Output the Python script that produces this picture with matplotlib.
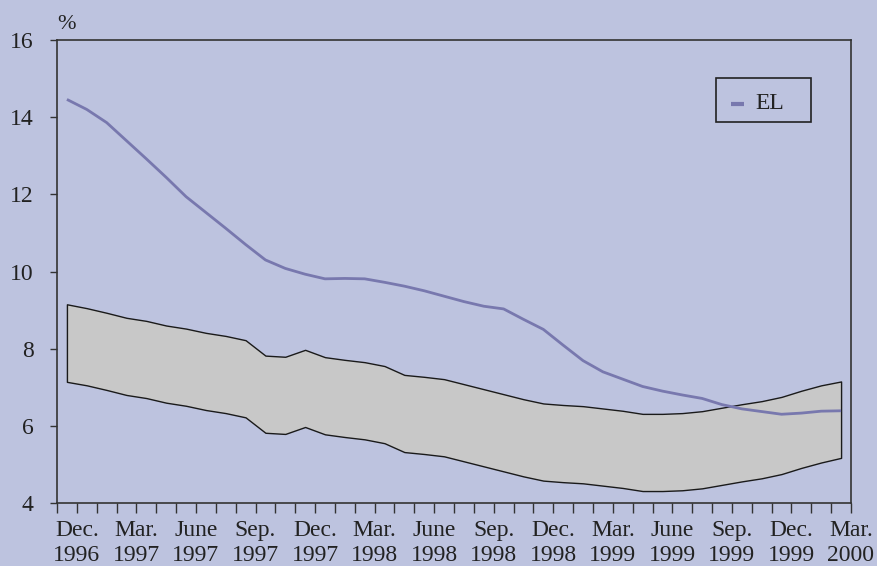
import matplotlib
matplotlib.use("Agg")
import matplotlib.pyplot as plt
from matplotlib.patches import Rectangle

plt.rcParams['font.family'] = ['Liberation Serif', 'DejaVu Serif']

# Monthly data, Nov. 1996 .. Feb. 2000 (40 points)
el = [14.46, 14.20, 13.86, 13.39, 12.92, 12.44, 11.94, 11.53, 11.12, 10.70,
      10.30, 10.08, 9.93, 9.81, 9.82, 9.81, 9.72, 9.62, 9.50, 9.36,
      9.22, 9.10, 9.03, 8.76, 8.50, 8.09, 7.69, 7.40, 7.21, 7.02,
      6.90, 6.80, 6.71, 6.55, 6.44, 6.37, 6.30, 6.33, 6.38, 6.39]

band_upper = [9.15, 9.05, 8.93, 8.80, 8.72, 8.60, 8.52, 8.41, 8.33, 8.22,
              7.82, 7.79, 7.97, 7.78, 7.71, 7.65, 7.55, 7.32, 7.27, 7.21,
              7.08, 6.95, 6.82, 6.69, 6.58, 6.54, 6.51, 6.45, 6.39, 6.31,
              6.31, 6.33, 6.38, 6.47, 6.56, 6.64, 6.75, 6.91, 7.05, 7.15]

band_lower = [7.14, 7.05, 6.93, 6.80, 6.72, 6.60, 6.52, 6.41, 6.33, 6.22,
              5.82, 5.79, 5.97, 5.78, 5.71, 5.65, 5.55, 5.32, 5.27, 5.21,
              5.08, 4.95, 4.82, 4.69, 4.58, 4.54, 4.51, 4.45, 4.39, 4.31,
              4.31, 4.33, 4.38, 4.47, 4.56, 4.64, 4.75, 4.91, 5.05, 5.17]

tick_labels = ["Dec.\n1996", "Mar.\n1997", "June\n1997", "Sep.\n1997",
               "Dec.\n1997", "Mar.\n1998", "June\n1998", "Sep.\n1998",
               "Dec.\n1998", "Mar.\n1999", "June\n1999", "Sep.\n1999",
               "Dec.\n1999", "Mar.\n2000"]
series_label = "EL"
y_ticks = [4, 6, 8, 10, 12, 14, 16]

bg = '#BDC3DF'
txt = '#222222'
el_color = '#7878AE'
x = [i + 0.5 for i in range(len(el))]

fig = plt.figure(figsize=(8.77, 5.66), dpi=100)
fig.patch.set_facecolor(bg)
ax = fig.add_axes([57/877, 1-503/566, (851-57)/877, (503-40)/566])
ax.set_facecolor(bg)

ax.fill_between(x, band_lower, band_upper, facecolor='#C8C8C8',
                edgecolor='#1a1a1a', linewidth=1.0, zorder=2)
ax.plot(x, el, color=el_color, linewidth=2.0, zorder=3, solid_capstyle='butt')

ax.set_xlim(0, 40)
ax.set_ylim(4, 16)
ax.set_yticks(y_ticks)
ax.set_yticklabels([str(v) for v in y_ticks])

ticks = list(range(0, 41))
labels = [''] * len(ticks)
for k, lab in enumerate(tick_labels):
    labels[1 + 3 * k] = lab
ax.set_xticks(ticks)
ax.set_xticklabels(labels, linespacing=1.2)

for s in ax.spines.values():
    s.set_color('#333333')
    s.set_linewidth(1.2)
ax.tick_params(axis='x', direction='out', length=7.5, width=1.0, color='#333333',
               labelsize=17, labelcolor=txt, pad=5)
ax.tick_params(axis='y', direction='out', length=5, width=1.0, color='#333333',
               labelsize=17, labelcolor=txt, pad=12)

ax.text(0.0, 1.012, '%', transform=ax.transAxes, ha='left', va='bottom',
        fontsize=16, color=txt)

# legend box (drawn explicitly to match the reference proportions)
ax.add_patch(Rectangle((0.830, 0.8229), 0.1196, 0.0951, transform=ax.transAxes,
                       fill=False, edgecolor='#222222', linewidth=1.2, zorder=5))
ax.plot([0.849, 0.865], [0.8618, 0.8618], transform=ax.transAxes,
        color=el_color, linewidth=3, solid_capstyle='butt', zorder=5)
ax.text(0.879, 0.8635, series_label, transform=ax.transAxes, ha='left',
        va='center', fontsize=17, color=txt, zorder=5)

fig.savefig('out.png', dpi=100, facecolor=bg)
